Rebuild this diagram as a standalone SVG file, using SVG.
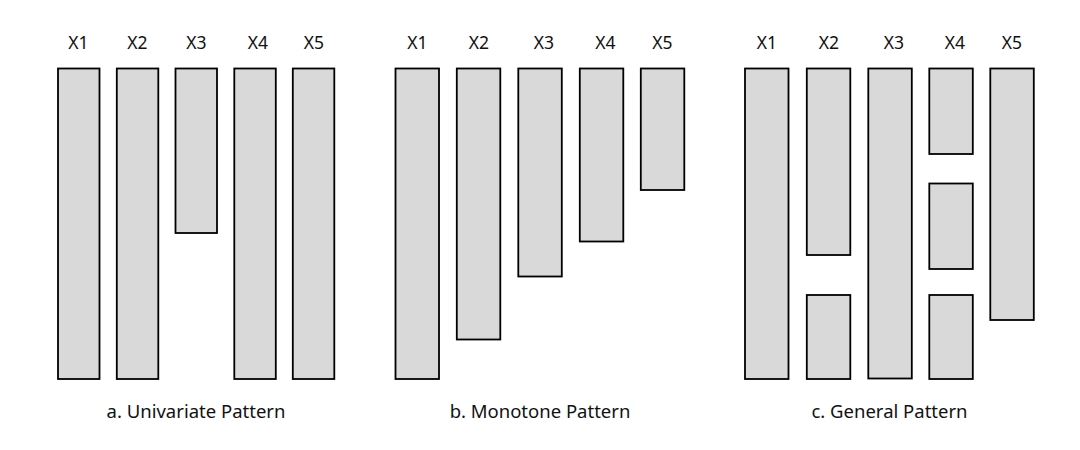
<svg xmlns="http://www.w3.org/2000/svg" width="1080" height="450" viewBox="0 0 1080 450">
<style>
.bar{fill:#d9d9d9;stroke:#000;stroke-width:1.8}
.lbl{font-family:"Noto Sans","Liberation Sans",sans-serif;font-size:17.5px;fill:#111;text-anchor:middle}
.cap{font-family:"Noto Sans","Liberation Sans",sans-serif;font-size:18.5px;fill:#111;text-anchor:middle}
</style>
<rect width="1080" height="450" fill="#fff"/>
<g id="panel-a">
<g id="a-x1"><text class="lbl" x="78.5" y="49">X1</text><rect class="bar" x="58" y="68.5" width="41.5" height="310.5"/></g>
<g id="a-x2"><text class="lbl" x="137.5" y="49">X2</text><rect class="bar" x="116.8" y="68.5" width="41.5" height="310.5"/></g>
<g id="a-x3"><text class="lbl" x="196.5" y="49">X3</text><rect class="bar" x="175.5" y="68.5" width="41.5" height="164.5"/></g>
<g id="a-x4"><text class="lbl" x="258" y="49">X4</text><rect class="bar" x="234.3" y="68.5" width="41.5" height="310.5"/></g>
<g id="a-x5"><text class="lbl" x="314" y="49">X5</text><rect class="bar" x="292.8" y="68.5" width="41.5" height="310.5"/></g>
<text class="cap" x="196" y="418">a. Univariate Pattern</text>
</g>
<g id="panel-b">
<g id="b-x1"><text class="lbl" x="417.5" y="49">X1</text><rect class="bar" x="395.5" y="68.5" width="43.5" height="310.5"/></g>
<g id="b-x2"><text class="lbl" x="479" y="49">X2</text><rect class="bar" x="456.8" y="68.5" width="43.5" height="271"/></g>
<g id="b-x3"><text class="lbl" x="544" y="49">X3</text><rect class="bar" x="518.3" y="68.5" width="43.5" height="208"/></g>
<g id="b-x4"><text class="lbl" x="605.5" y="49">X4</text><rect class="bar" x="579.8" y="68.5" width="43.5" height="173"/></g>
<g id="b-x5"><text class="lbl" x="662.5" y="49">X5</text><rect class="bar" x="640.8" y="68.5" width="43.5" height="121.5"/></g>
<text class="cap" x="540" y="418">b. Monotone Pattern</text>
</g>
<g id="panel-c">
<g id="c-x1"><text class="lbl" x="767" y="49">X1</text><rect class="bar" x="745" y="68.5" width="43.5" height="310.5"/></g>
<g id="c-x2"><text class="lbl" x="829" y="49">X2</text><rect class="bar" x="806.8" y="68.5" width="43.5" height="186.5"/><rect class="bar" x="806.8" y="295" width="43.5" height="84"/></g>
<g id="c-x3"><text class="lbl" x="894" y="49">X3</text><rect class="bar" x="868.3" y="68.5" width="43.5" height="310"/></g>
<g id="c-x4"><text class="lbl" x="955" y="49">X4</text><rect class="bar" x="929.3" y="68.5" width="43.5" height="85.5"/><rect class="bar" x="929.3" y="183.5" width="43.5" height="85.5"/><rect class="bar" x="929.3" y="295" width="43.5" height="84"/></g>
<g id="c-x5"><text class="lbl" x="1012" y="49">X5</text><rect class="bar" x="990.3" y="68.5" width="43.5" height="251.5"/></g>
<text class="cap" x="889.5" y="418">c. General Pattern</text>
</g>
<g id="connectors"/>
</svg>
